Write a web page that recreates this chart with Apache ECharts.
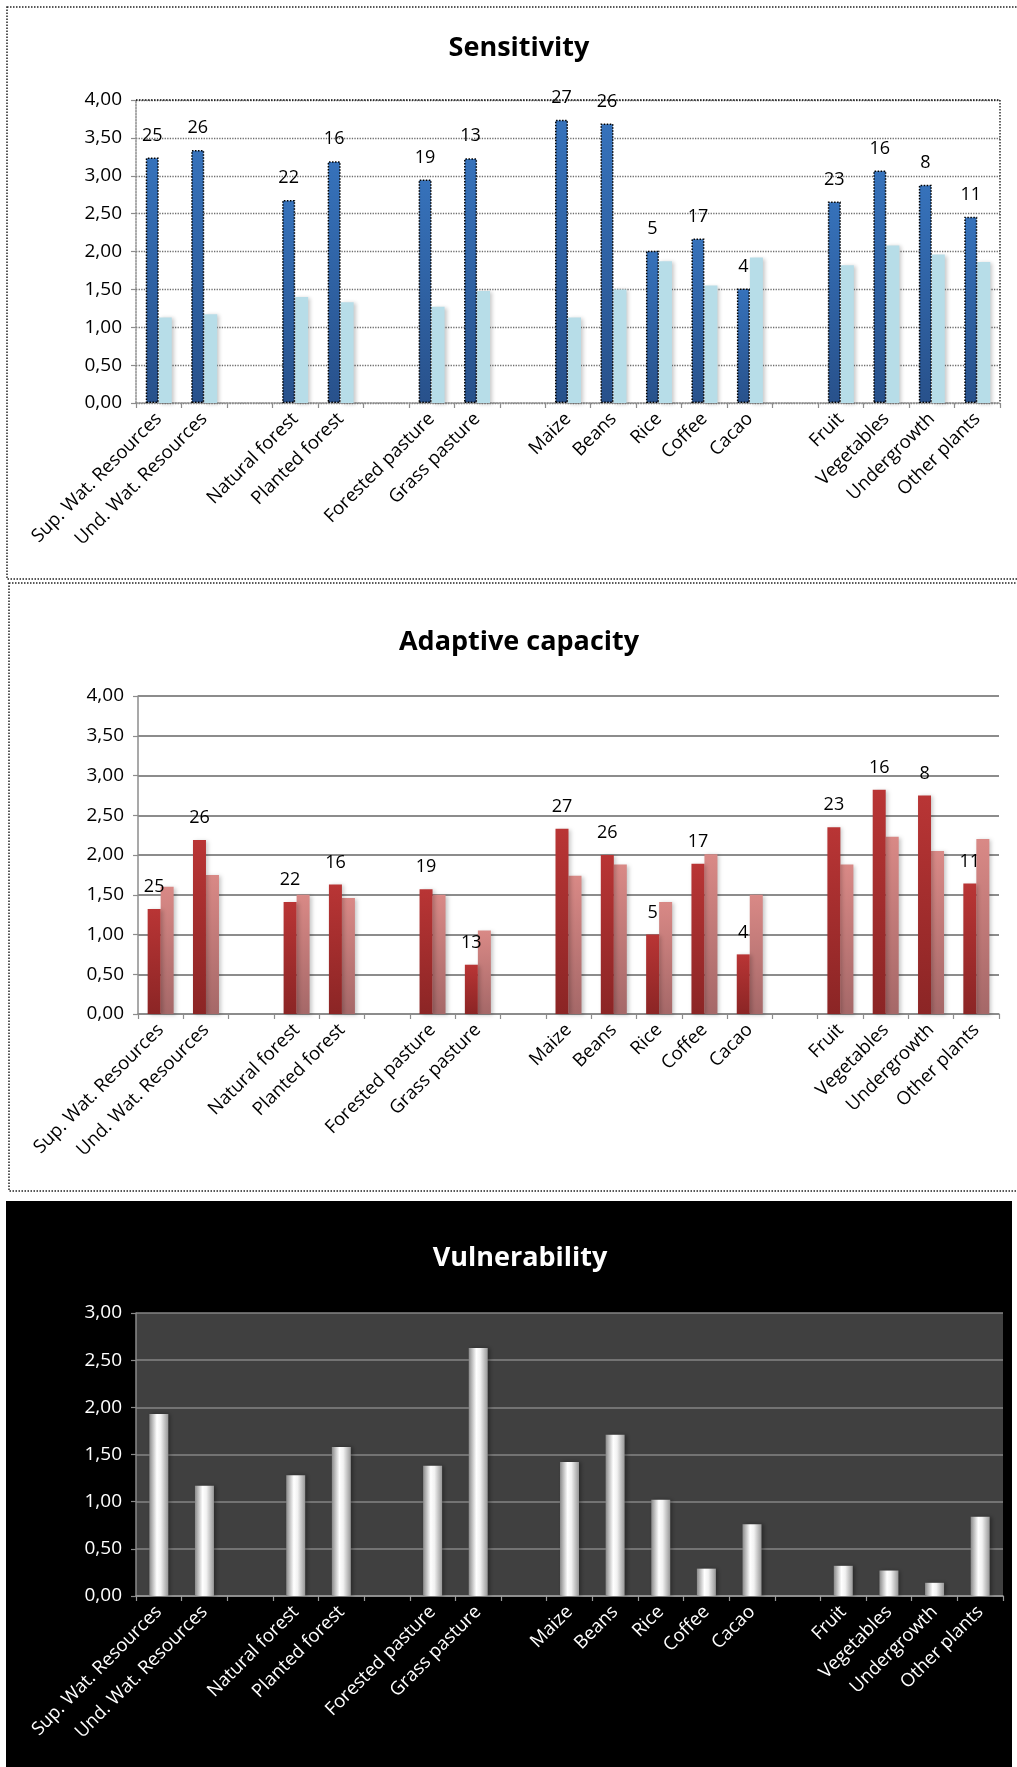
<!DOCTYPE html>
<html>
<head>
<meta charset="utf-8">
<script src="https://cdn.jsdelivr.net/npm/echarts@6/dist/echarts.min.js"></script>
<style>
  html, body { margin: 0; padding: 0; background: #ffffff; }
  #chart { width: 1017px; height: 1767px; }
</style>
</head>
<body>
<div id="chart"></div>
<script>
// Land-use / resource categories (blank slots separate the groups)
const categories = [
  'Sup. Wat. Resources', 'Und. Wat. Resources', ' ',
  'Natural forest', 'Planted forest', '  ',
  'Forested pasture', 'Grass pasture', '   ',
  'Maize', 'Beans', 'Rice', 'Coffee', 'Cacao', '    ',
  'Fruit', 'Vegetables', 'Undergrowth', 'Other plants'
];

// Count printed above each dark bar
const ranks = [25, 26, null, 22, 16, null, 19, 13, null, 27, 26, 5, 17, 4, null, 23, 16, 8, 11];

// Sensitivity
const sensitivityMain = [3.24, 3.34, null, 2.68, 3.19, null, 2.95, 3.23, null, 3.74, 3.69, 2.01, 2.17, 1.51, null, 2.66, 3.07, 2.88, 2.46];
const sensitivityRef  = [1.13, 1.17, null, 1.40, 1.33, null, 1.27, 1.48, null, 1.13, 1.50, 1.87, 1.55, 1.92, null, 1.82, 2.08, 1.96, 1.86];

// Adaptive capacity
const adaptiveMain = [1.32, 2.19, null, 1.41, 1.63, null, 1.57, 0.62, null, 2.33, 2.00, 1.00, 1.89, 0.75, null, 2.35, 2.82, 2.75, 1.64];
const adaptiveRef  = [1.60, 1.75, null, 1.50, 1.46, null, 1.50, 1.05, null, 1.74, 1.88, 1.41, 2.01, 1.50, null, 1.88, 2.23, 2.05, 2.20];

// Vulnerability
const vulnerability = [1.93, 1.17, null, 1.28, 1.58, null, 1.38, 2.63, null, 1.42, 1.71, 1.02, 0.29, 0.76, null, 0.32, 0.27, 0.14, 0.84];

const FONT = '"Open Sans", Lato, sans-serif';
const fmt = v => v.toFixed(2).replace('.', ',');

function vGrad(top, bottom) {
  return { type: 'linear', x: 0, y: 0, x2: 0, y2: 1,
    colorStops: [{ offset: 0, color: top }, { offset: 1, color: bottom }] };
}

const silverBar = {
  type: 'linear', x: 0, y: 0, x2: 1, y2: 0,
  colorStops: [
    { offset: 0, color: '#8a8a8a' },
    { offset: 0.4, color: '#ffffff' },
    { offset: 0.6, color: '#f2f2f2' },
    { offset: 1, color: '#979797' }
  ]
};

function xAxisFor(gridIndex, textColor, lineColor, lineType) {
  return {
    type: 'category', gridIndex, data: categories,
    boundaryGap: true,
    axisLine: { show: true, lineStyle: { color: lineColor, width: 1.5, type: lineType } },
    axisTick: { show: true, length: 5, lineStyle: { color: lineColor, width: 1.2 } },
    axisLabel: { interval: 0, rotate: 45, margin: 13, fontSize: 18.5,
      fontFamily: FONT, color: textColor, hideOverlap: false },
    splitLine: { show: false }
  };
}

function yAxisFor(gridIndex, max, textColor, lineColor, lineType, split) {
  return {
    type: 'value', gridIndex, min: 0, max, interval: 0.5,
    axisLine: { show: true, lineStyle: { color: lineColor, width: 1.5, type: lineType } },
    axisTick: { show: true, length: 5, lineStyle: { color: lineColor, width: 1.2 } },
    axisLabel: { formatter: fmt, margin: 14, fontSize: 19, fontFamily: FONT, color: textColor },
    splitLine: { show: true, lineStyle: split }
  };
}

function rankLabel() {
  return {
    show: true, position: 'top', distance: 13,
    fontSize: 18, fontFamily: FONT, color: '#000',
    formatter: p => (ranks[p.dataIndex] == null ? '' : String(ranks[p.dataIndex]))
  };
}

const titleStyle = color => ({ fontSize: 27, fontWeight: 'bold', color, fontFamily: FONT });

const chart = echarts.init(document.getElementById('chart'), null, { renderer: 'canvas' });

chart.setOption({
  animation: false,
  backgroundColor: '#ffffff',
  textStyle: { fontFamily: FONT },
  title: [
    { text: 'Sensitivity', left: 519, top: 48, textAlign: 'center', textVerticalAlign: 'middle', padding: 0,
      textStyle: titleStyle('#000') },
    { text: 'Adaptive capacity', left: 519, top: 642, textAlign: 'center', textVerticalAlign: 'middle', padding: 0,
      textStyle: titleStyle('#000') },
    { text: 'Vulnerability', left: 520, top: 1258, textAlign: 'center', textVerticalAlign: 'middle', padding: 0,
      textStyle: titleStyle('#fff') }
  ],
  graphic: [
    // panel frames
    { type: 'rect', z: -20, shape: { x: 7, y: 7, width: 1020, height: 572 },
      style: { fill: null, stroke: '#222', lineWidth: 1.5, lineDash: [1.5, 1.5] } },
    { type: 'rect', z: -20, shape: { x: 9, y: 583, width: 1020, height: 608 },
      style: { fill: null, stroke: '#222', lineWidth: 1.5, lineDash: [1.5, 1.5] } },
    { type: 'rect', z: -20, shape: { x: 6, y: 1201, width: 1006, height: 570 },
      style: { fill: '#000', stroke: null } },
    // dotted outline of the sensitivity plot area (top and right)
    { type: 'polyline', z: 5, shape: { points: [[136, 100], [1000, 100], [1000, 403]] },
      style: { fill: null, stroke: '#111', lineWidth: 1.3, lineDash: [1.5, 1.5] } }
  ],
  grid: [
    { left: 136, top: 100, width: 864, height: 303, containLabel: false, outerBoundsMode: 'none' },
    { left: 138, top: 696, width: 861, height: 318, containLabel: false, outerBoundsMode: 'none' },
    { left: 136, top: 1313, width: 867, height: 283, containLabel: false, outerBoundsMode: 'none',
      show: true, backgroundColor: '#404040', borderWidth: 0 }
  ],
  xAxis: [
    xAxisFor(0, '#000', '#8c8c8c', 'dotted'),
    xAxisFor(1, '#000', '#8c8c8c', 'solid'),
    xAxisFor(2, '#fff', '#9a9a9a', 'solid')
  ],
  yAxis: [
    yAxisFor(0, 4, '#000', '#8c8c8c', 'dotted', { color: '#6e6e6e', width: 1.3, type: 'dotted' }),
    yAxisFor(1, 4, '#000', '#8c8c8c', 'solid', { color: '#8c8c8c', width: 1.8, type: 'solid' }),
    yAxisFor(2, 3, '#fff', '#8a8a8a', 'solid', { color: '#858585', width: 1.6, type: 'solid' })
  ],
  series: [
    {
      name: 'Sensitivity', type: 'bar', xAxisIndex: 0, yAxisIndex: 0,
      data: sensitivityMain, barWidth: 13, barGap: '0%',
      itemStyle: { color: vGrad('#3672bb', '#28518b'), borderColor: '#000', borderWidth: 1.5, borderType: 'dotted' },
      label: rankLabel(), z: 3
    },
    {
      name: 'Sensitivity (ref.)', type: 'bar', xAxisIndex: 0, yAxisIndex: 0,
      data: sensitivityRef, barWidth: 13, barGap: '0%',
      itemStyle: { color: '#b7dde8', shadowColor: 'rgba(0,0,0,0.22)', shadowBlur: 4, shadowOffsetX: 2, shadowOffsetY: 1 },
      z: 2
    },
    {
      name: 'Adaptive capacity', type: 'bar', xAxisIndex: 1, yAxisIndex: 1,
      data: adaptiveMain, barWidth: 13, barGap: '0%',
      itemStyle: { color: vGrad('#b93535', '#8b2525'), shadowColor: 'rgba(0,0,0,0.2)', shadowBlur: 4, shadowOffsetX: 2, shadowOffsetY: 1 },
      label: rankLabel(), z: 3
    },
    {
      name: 'Adaptive capacity (ref.)', type: 'bar', xAxisIndex: 1, yAxisIndex: 1,
      data: adaptiveRef, barWidth: 13, barGap: '0%',
      itemStyle: { color: vGrad('#d98986', '#a56868'), shadowColor: 'rgba(0,0,0,0.22)', shadowBlur: 4, shadowOffsetX: 2, shadowOffsetY: 1 },
      z: 2
    },
    {
      name: 'Vulnerability', type: 'bar', xAxisIndex: 2, yAxisIndex: 2,
      data: vulnerability, barWidth: 19,
      itemStyle: { color: silverBar, shadowColor: 'rgba(0,0,0,0.35)', shadowBlur: 4, shadowOffsetX: 2 },
      z: 3
    }
  ]
});
</script>
</body>
</html>
